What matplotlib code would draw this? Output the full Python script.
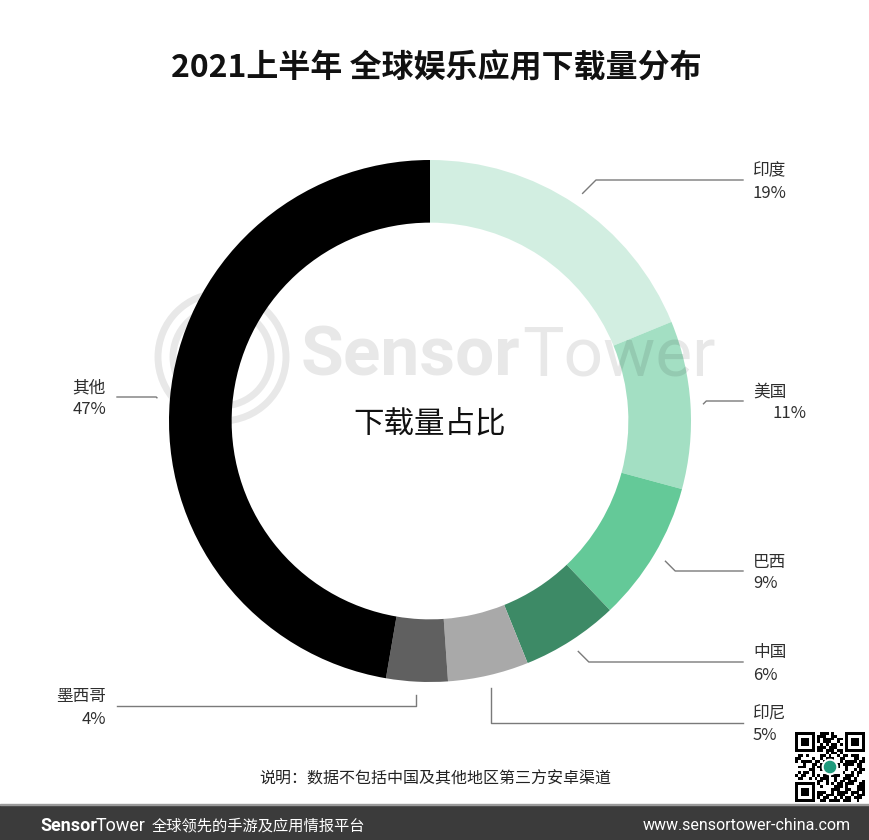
import numpy as np
import matplotlib.pyplot as plt
from matplotlib.patches import Rectangle, Circle

plt.rcParams['font.family'] = ['Noto Sans CJK SC', 'DejaVu Sans']

regions = ['印度', '美国', '巴西', '中国', '印尼', '墨西哥', '其他']
shares = [18.8, 10.4, 8.7, 6.0, 5.0, 3.8, 47.3]
share_labels = ['19%', '11%', '9%', '6%', '5%', '4%', '47%']
colors = ['#d2eee1', '#a3dfc3', '#64c998', '#3d8a66', '#a9a9a9', '#606060', '#000000']

# label layout (pixels)
label_y = [180, 401, 571, 662, 723, 706, 397]
label_side = ['r', 'r', 'r', 'r', 'r', 'l', 'l']
route = ['diag', 'diag', 'diag', 'diag', 'vert', 'vert', 'diag']
pct_dx = [0, 20, 0, 0, 0, 0, 0]

W, H = 870, 840
R = 261.0
cx, cy = 430, 421


def px(x, y):
    return (x - cx) / R, (cy - y) / R


fig = plt.figure(figsize=(8.7, 8.4), dpi=100)
fig.patch.set_facecolor('white')
ax = fig.add_axes([0, 0, 1, 1])
wedges, _ = ax.pie(shares, colors=colors, startangle=90, counterclock=False,
                   radius=1, wedgeprops=dict(width=0.24, linewidth=0))
ax.set_aspect('auto')
ax.set_xlim(-cx / R, (W - cx) / R)
ax.set_ylim(-(H - cy) / R, cy / R)
ax.axis('off')

# leader lines + labels
line_c = '#7a7a7a'
txt_c = '#2e2e2e'
for w, name, pct, ly, side, rt, dx in zip(wedges, regions, share_labels, label_y,
                                          label_side, route, pct_dx):
    ang = np.deg2rad((w.theta1 + w.theta2) / 2)
    sx, sy = 1.05 * np.cos(ang), 1.05 * np.sin(ang)
    _, y_line = px(0, ly)
    if rt == 'vert':
        kx = sx
    else:
        kx = sx + abs(y_line - sy) * (1 if side == 'r' else -1)
    ex = px(743, 0)[0] if side == 'r' else px(117, 0)[0]
    ax.plot([sx, kx, ex], [sy, y_line, y_line], color=line_c, lw=1, zorder=3)
    if side == 'r':
        tx, ha = px(753, 0)[0], 'left'
    else:
        tx, ha = px(106, 0)[0], 'right'
    ax.text(tx, px(0, ly - 9)[1], name, ha=ha, va='center', fontsize=12, color=txt_c,
            fontweight='medium')
    ax.text(tx + dx / R, px(0, ly + 13)[1], pct, ha=ha, va='center', fontsize=12,
            color=txt_c, fontweight='medium')

# centre label
ax.text(*px(430, 424), '下载量占比', ha='center', va='center', fontsize=22, color='#111111')

# watermark
wm = dict(color='black', alpha=0.09, zorder=6, va='center')
ax.text(*px(520, 357), 'Sensor', ha='right', fontsize=50, fontweight='bold',
        family='Roboto', **wm)
ax.text(*px(522, 357), 'Tower', ha='left', fontsize=50, family='Roboto', **wm)
for r in (64, 49):
    ax.add_patch(Circle(px(222, 357), r / R, fill=False, lw=5, ec='black',
                        alpha=0.09, zorder=6))

# title and note
fig.text(436 / W, 1 - 68 / H, '2021上半年 全球娱乐应用下载量分布', ha='center', va='center',
         fontsize=23, fontweight='heavy', color='#111111')
fig.text(435 / W, 1 - 779 / H, '说明：数据不包括中国及其他地区第三方安卓渠道', ha='center',
         va='center', fontsize=11.5, color='#222222')

# footer bar
fig.patches.append(Rectangle((0, 0), 1, 35 / H, transform=fig.transFigure,
                             color='#3b3b3b', zorder=0))
fig.patches.append(Rectangle((0, 35 / H), 1, 1.5 / H, transform=fig.transFigure,
                             color='#9a9a9a', zorder=0))
ax.add_patch(Circle(px(23, 826), 11 / R, fill=False, lw=1.3, ec='white', zorder=7,
                    clip_on=False))
ax.add_patch(Circle(px(23, 824), 5 / R, fill=False, lw=1.1, ec='white', zorder=7,
                    clip_on=False))
ax.plot(*zip(px(23, 826), px(23, 836)), color='white', lw=1.3, zorder=7, clip_on=False)
fig.text(40 / W, 1 - 826 / H, 'Sensor', ha='left', va='center', fontsize=13,
         fontweight='bold', family='Roboto', color='white')
fig.text(96 / W, 1 - 826 / H, 'Tower', ha='left', va='center', fontsize=13,
         family='Roboto', color='white')
fig.text(152 / W, 1 - 826 / H, '全球领先的手游及应用情报平台', ha='left', va='center',
         fontsize=11, color='white')
fig.text(851 / W, 1 - 826 / H, 'www.sensortower-china.com', ha='right', va='center',
         fontsize=11.5, family='Roboto', color='white')

# QR code (decorative)
n = 25
bits = np.unpackbits(np.frombuffer(b'https://www.sensortower-china.com/blog/2021-h1-entertainment',
                                   dtype=np.uint8))
qr = np.resize(bits, n * n).reshape(n, n).astype(float)
for (r0, c0) in [(0, 0), (0, n - 7), (n - 7, 0)]:
    qr[max(r0 - 1, 0):r0 + 8, max(c0 - 1, 0):c0 + 8] = 0
    qr[r0:r0 + 7, c0:c0 + 7] = 1
    qr[r0 + 1:r0 + 6, c0 + 1:c0 + 6] = 0
    qr[r0 + 2:r0 + 5, c0 + 2:c0 + 5] = 1
qax = fig.add_axes([795 / W, 1 - 802 / H, 70 / W, 70 / H])
qax.imshow(qr, cmap='gray_r', interpolation='nearest', extent=(0, 1, 0, 1))
qax.add_patch(Circle((0.5, 0.5), 0.11, color='white'))
qax.add_patch(Circle((0.5, 0.5), 0.08, color='#1e9a7c'))
qax.set_xlim(0, 1)
qax.set_ylim(0, 1)
qax.axis('off')

fig.savefig('out.png', dpi=100, facecolor='white')
